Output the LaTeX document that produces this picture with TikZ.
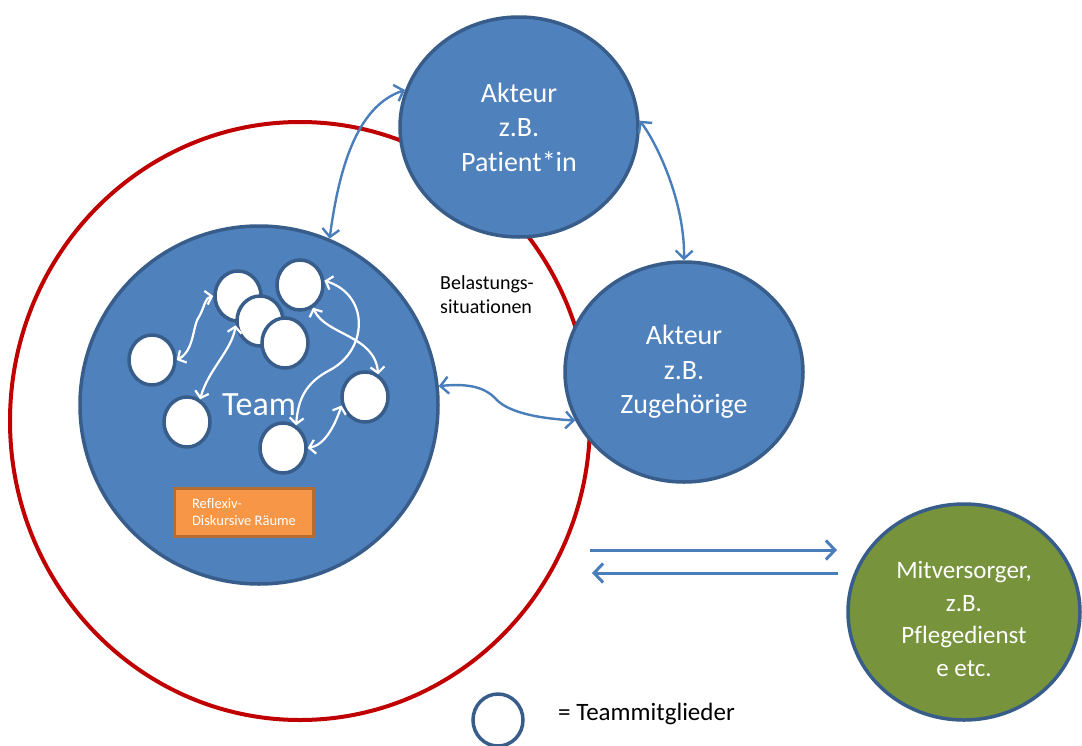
\documentclass[tikz,border=0pt]{standalone}
\usepackage{fontspec}
\setmainfont{Carlito}[Ligatures=NoCommon]
\usetikzlibrary{shapes.geometric,arrows.meta}
\definecolor{accfill}{HTML}{4F81BD}
\definecolor{accline}{HTML}{385D8A}
\definecolor{ringred}{HTML}{C00000}
\definecolor{olivefill}{HTML}{77933C}
\definecolor{orangefill}{HTML}{F79646}
\definecolor{orangeline}{HTML}{B66D31}
\definecolor{linkblue}{HTML}{4A7EBB}

\begin{document}
\begin{tikzpicture}[x=1pt,y=-1pt,
  actor/.style={ellipse, draw=accline, line width=3.5pt, fill=accfill, inner sep=0pt,
    minimum width=238pt, minimum height=220pt, text=white, align=center,
    font=\fontsize{28}{34.5}\selectfont},
  partner/.style={actor, fill=olivefill, minimum width=232pt, minimum height=216pt},
  partnertext/.style={inner sep=0pt, text=white, align=center,
    font=\fontsize{25}{32.5}\selectfont},
  member/.style={ellipse, draw=accline, line width=3.5pt, fill=white, inner sep=0pt,
    minimum width=46pt, minimum height=50pt},
  link/.style={draw=linkblue, line width=2.4pt,
    {Straight Barb[length=8pt,width=17pt]}-{Straight Barb[length=8pt,width=17pt]}},
  innerlink/.style={draw=white, line width=2.2pt,
    {Straight Barb[length=6pt,width=14pt]}-{Straight Barb[length=6pt,width=14pt]}},
  flow/.style={draw=linkblue, line width=3pt, -{Straight Barb[length=9pt,width=19pt]}},
  roombox/.style={rectangle, draw=orangeline, line width=3pt, fill=orangefill,
    minimum width=139pt, minimum height=48pt, inner sep=0pt, align=left, text=white,
    font=\fontsize{14.5}{17}\selectfont},
  plain/.style={inner sep=0pt, anchor=base west},
]
% canvas
\fill[white] (0,0) rectangle (1082,745);
\useasboundingbox (0,0) rectangle (1082,745);

% outer red ring
\node[ellipse, draw=ringred, line width=4pt, minimum width=580pt, minimum height=598pt]
  (ring) at (300,421) {};

% team
\node[circle, draw=accline, line width=3.5pt, fill=accfill, inner sep=0pt, minimum size=358pt,
  text=white, font=\fontsize{34}{40}\selectfont] (team) at (259,405) {Team};

% team members
\node[member] (m4) at (300,285) {};
\node[member] (m5) at (152,360) {};
\node[member] (m6) at (187,422) {};
\node[member] (m7) at (283,448) {};
\node[member] (m8) at (365,397) {};
\node[member] (m1) at (238,296) {};
\node[member] (m2) at (260,321) {};
\node[member] (m3) at (285,343) {};

% exchanges within the team
\draw[innerlink] (m5.east) .. controls (195,350) and (192,325) .. (200,315)
  .. controls (205,305) and (205,298) .. (m1.west);
\draw[innerlink] (m6.60) .. controls (208,370) and (232,350) .. (m2.190);
\draw[innerlink] (m4.10) .. controls (370,295) and (368,350) .. (330,370)
  .. controls (305,383) and (298,400) .. (m7.60);
\draw[innerlink] (m4.-60) .. controls (325,335) and (375,335) .. (m8.60);
\draw[innerlink] (m8.200) .. controls (335,425) and (325,445) .. (m7.east);

% actors
\node[actor] (patient) at (519,127) {Akteur\\z.B.\\Patient*in};
\node[actor] (relatives) at (684,372) {Akteur\\z.B.\\Zugehörige};

% links between team and actors
\draw[link] (team.67) .. controls (340,160) and (360,105) .. (patient.162);
\draw[link] (patient.3) .. controls (655,140) and (685,200) .. (relatives.north);
\draw[link] (team.6) .. controls (470,383) and (485,388) .. (495,398)
  .. controls (505,410) and (530,418) .. (relatives.204);

% co-providers
\node[partner] (partner) at (964,612) {};
\node[partnertext] (partnerlabel) at (964,619) {Mitversorger,\\z.B.\\Pflegedienst\\e etc.};

% exchange with co-providers
\coordinate (outA) at (590,550);
\coordinate (inA) at (837,550);
\coordinate (outB) at (838,573);
\coordinate (inB) at (592,573);
\draw[flow] (outA) -- (inA);
\draw[flow] (outB) -- (inB);

% reflective spaces
\node[roombox] (rooms) at (244,512.5) {Reflexiv-\\Diskursive Räume};

% stress situations label (base anchor sits on the last line)
\node[plain, align=left, font=\fontsize{20}{24}\selectfont] (stress) at (440,313)
  {Belastungs-\\situationen};

% legend
\node[member, minimum width=50pt, minimum height=52pt] (legendring) at (498,720) {};
\node[plain, font=\fontsize{25}{29}\selectfont] (legendtext) at (558,720) {= Teammitglieder};
\end{tikzpicture}
\end{document}
